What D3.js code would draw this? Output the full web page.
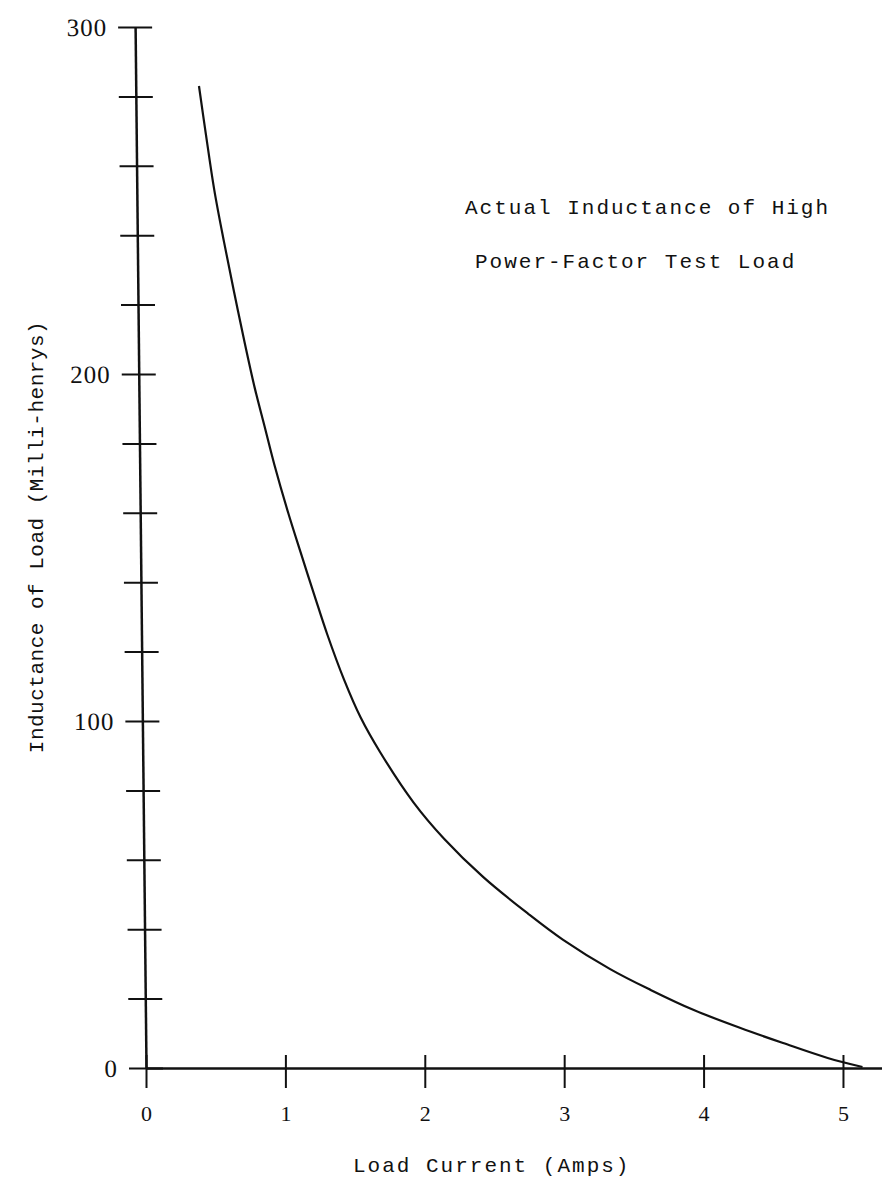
<!DOCTYPE html>
<html>
<head>
<meta charset="utf-8">
<script src="https://cdn.jsdelivr.net/npm/d3@7"></script>
<style>
body { margin: 0; background: #fff; }
text { fill: #111; }
</style>
</head>
<body>
<svg id="chart"></svg>
<script>

var w = 882;
var h = 1183;

// load current (amps)
var current = [0.38, 0.43, 0.49, 0.56, 0.63, 0.70, 0.78, 0.85, 0.92, 1.02, 1.11, 1.21, 1.30, 1.42, 1.54, 1.68, 1.92, 2.14, 2.42, 2.74, 2.99, 3.33, 3.62, 3.93, 4.26, 4.57, 4.89, 5.14];
// inductance of load (milli-henrys)
var inductance = [283, 269, 253, 238, 224, 210.5, 196, 185, 174, 160, 148.5, 136, 125, 112, 101, 91, 76.5, 66, 55, 44.5, 37, 28.5, 22.5, 16.7, 11.6, 7.2, 2.9, 0.3];

var xTicks = [0, 1, 2, 3, 4, 5];
var yTicks = [0, 20, 40, 60, 80, 100, 120, 140, 160, 180, 200, 220, 240, 260, 280, 300];
var yLabels = [0, 100, 200, 300];
var title = ['Actual Inductance of High', 'Power-Factor Test Load'];
var xTitle = 'Load Current (Amps)';
var yTitle = 'Inductance of Load (Milli-henrys)';

var svg = d3.select('#chart')
	.attr('width', w)
	.attr('height', h);

var x = d3.scaleLinear().domain([0, 5.28]).range([146, 882]);
var y = d3.scaleLinear().domain([0, 300]).range([1068, 27]);

// y axis (slightly leaning in the scan)
var yAxis = d3.axisLeft(y)
	.tickValues(yTicks)
	.tickSizeOuter(0)
	.tickSizeInner(17)
	.tickPadding(11)
	.tickFormat(function(d) { return yLabels.includes(d) ? d : ''; });

var gy = svg.append('g')
	.attr('transform', 'translate(146,1068) skewX(0.6) translate(0,-1068)')
	.call(yAxis);

gy.select('.domain').attr('stroke', '#111').attr('stroke-width', 2.5);
gy.selectAll('.tick line').attr('x1', 17).attr('stroke', '#111').attr('stroke-width', 2);
gy.selectAll('.tick text')
	.style('font-family', 'Liberation Serif')
	.style('font-size', '25px')
	.style('letter-spacing', '1px');

// x axis
var xAxis = d3.axisBottom(x)
	.tickValues(xTicks)
	.tickSizeOuter(0)
	.tickSizeInner(20)
	.tickFormat(d3.format('d'));

var gx = svg.append('g')
	.attr('transform', 'translate(0,1068)')
	.call(xAxis);

gx.select('.domain').attr('stroke', '#111').attr('stroke-width', 2.5);
gx.selectAll('.tick line').attr('y1', -13).attr('stroke', '#111').attr('stroke-width', 2);
gx.selectAll('.tick text')
	.attr('y', 53)
	.attr('dy', 0)
	.style('font-family', 'Liberation Serif')
	.style('font-size', '22px');

// curve
var pts = current.map(function(c, i) { return [c, inductance[i]]; });

var line = d3.line()
	.x(function(d) { return x(d[0]); })
	.y(function(d) { return y(d[1]); })
	.curve(d3.curveCatmullRom.alpha(0.5));

svg.append('path')
	.datum(pts)
	.attr('d', line)
	.attr('fill', 'none')
	.attr('stroke', '#111')
	.attr('stroke-width', 2.2);

// titles
var lab = { 'font-family': 'Liberation Mono', 'font-size': '21px', 'letter-spacing': '2px' };

svg.append('text')
	.attr('x', 465).attr('y', 214)
	.style('font-family', lab['font-family'])
	.style('font-size', lab['font-size'])
	.style('letter-spacing', lab['letter-spacing'])
	.text(title[0]);

svg.append('text')
	.attr('x', 475).attr('y', 268)
	.style('font-family', lab['font-family'])
	.style('font-size', lab['font-size'])
	.style('letter-spacing', lab['letter-spacing'])
	.text(title[1]);

svg.append('text')
	.attr('x', 353).attr('y', 1172)
	.style('font-family', lab['font-family'])
	.style('font-size', lab['font-size'])
	.style('letter-spacing', lab['letter-spacing'])
	.text(xTitle);

svg.append('text')
	.attr('transform', 'translate(43,537) rotate(-90)')
	.attr('text-anchor', 'middle')
	.style('font-family', lab['font-family'])
	.style('font-size', lab['font-size'])
	.style('letter-spacing', '0.5px')
	.text(yTitle);

</script>
</body>
</html>
